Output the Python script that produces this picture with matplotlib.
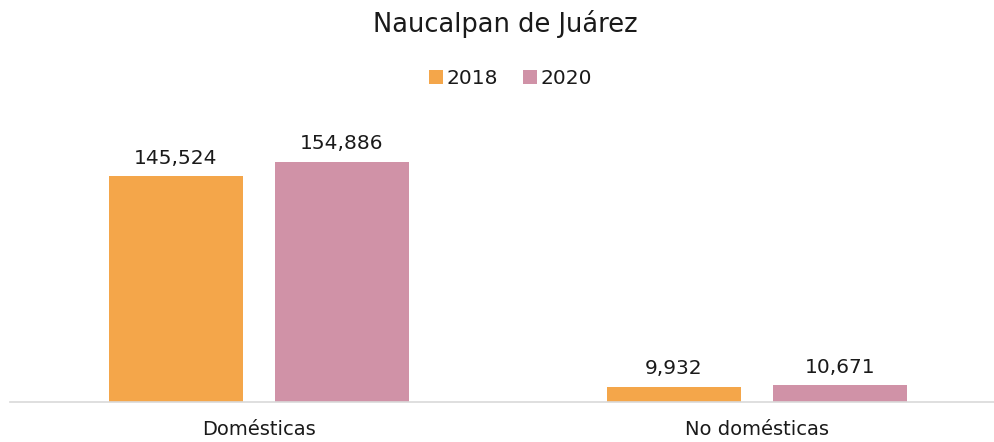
import numpy as np
import matplotlib.pyplot as plt

plt.rcParams["font.family"] = ["DejaVu Sans"]

categories = ["Domésticas", "No domésticas"]
values_2018 = [145524, 9932]
values_2020 = [154886, 10671]
labels = ["2018", "2020"]
colors = ["#F4A64A", "#D092A7"]

fig = plt.figure(figsize=(9.95, 4.42), dpi=100)
ax = fig.add_axes([0.01, 0.0905, 0.99, 0.66])

x = np.arange(len(categories))
width = 0.269
off = 0.1668

b1 = ax.bar(x - off, values_2018, width, color=colors[0], label=labels[0])
b2 = ax.bar(x + off, values_2020, width, color=colors[1], label=labels[1])

for bars in (b1, b2):
    for rect in bars:
        h = rect.get_height()
        ax.annotate(f"{h:,.0f}", (rect.get_x() + rect.get_width() / 2, h),
                    xytext=(0, 6), textcoords="offset points",
                    ha="center", va="bottom", fontsize=14.5, color="#1a1a1a")

ax.set_xlim(-0.5005, 1.479)
ax.set_ylim(0, 188000)
ax.set_xticks(x)
ax.set_xticklabels(categories, fontsize=14, color="#1a1a1a")
ax.tick_params(axis="x", length=0, pad=13)
ax.set_yticks([])
for s in ["top", "left", "right"]:
    ax.spines[s].set_visible(False)
ax.spines["bottom"].set_color("#D9D9D9")
ax.spines["bottom"].set_linewidth(1.2)

fig.text(0.508, 0.945, "Naucalpan de Juárez", ha="center", va="center",
         fontsize=18.5, color="#1a1a1a")
fig.legend(handles=[b1, b2], loc="center", bbox_to_anchor=(0.513, 0.822),
           ncol=2, frameon=False, fontsize=14.5, handlelength=0.7,
           handleheight=0.7, handletextpad=0.2, columnspacing=1.2,
           labelcolor="#1a1a1a")

fig.savefig("out.png", dpi=100)
